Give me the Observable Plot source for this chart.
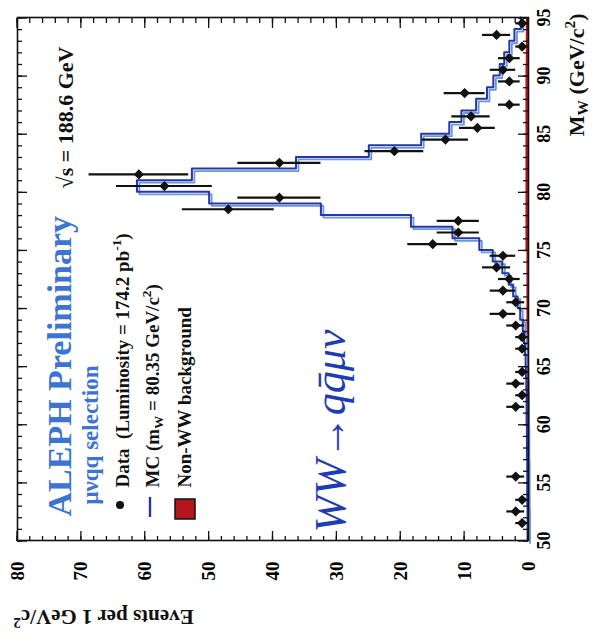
<!DOCTYPE html>
<html>
<head>
<meta charset="utf-8">
<script src="https://cdn.jsdelivr.net/npm/d3@7"></script>
<script src="https://cdn.jsdelivr.net/npm/@observablehq/plot@0.6"></script>
<style>
  html, body { margin: 0; padding: 0; background: #ffffff; }
  #wrap { position: relative; width: 596px; height: 641px; overflow: hidden; background: #ffffff; }
  #wrap svg { position: absolute; left: 0; top: 0; width: 641px !important; height: 596px !important; max-width: none !important; transform-origin: 0 0; transform: translate(0px, 641px) rotate(-90deg); }
</style>
</head>
<body>
<div id="wrap"></div>
<script>
// ---- Data (bins of 1 GeV/c^2, centres) ----
const binCenters = [50.5, 51.5, 52.5, 53.5, 54.5, 55.5, 56.5, 57.5, 58.5, 59.5,
                    60.5, 61.5, 62.5, 63.5, 64.5, 65.5, 66.5, 67.5, 68.5, 69.5,
                    70.5, 71.5, 72.5, 73.5, 74.5, 75.5, 76.5, 77.5, 78.5, 79.5,
                    80.5, 81.5, 82.5, 83.5, 84.5, 85.5, 86.5, 87.5, 88.5, 89.5,
                    90.5, 91.5, 92.5, 93.5, 94.5];
const dataCounts = [0, 1, 2, 1, 0, 2, 0, 0, 0, 0,
                    0, 2, 1, 2, 1, 0, 1, 1, 2, 4,
                    2, 4, 3, 5, 4, 15, 11, 11, 47, 39,
                    57, 61, 39, 21, 13, 8, 9, 3, 10, 3,
                    4, 3, 1, 5, 1];
const dataErrors = [0, 1.0, 1.4, 1.0, 0, 1.4, 0, 0, 0, 0,
                    0, 1.4, 1.0, 1.4, 1.0, 0, 1.0, 1.0, 1.4, 2.0,
                    1.4, 2.0, 1.7, 2.2, 2.0, 3.9, 3.3, 3.3, 7.2, 6.5,
                    7.5, 7.8, 6.5, 4.6, 3.6, 2.8, 3.0, 1.7, 3.2, 1.7,
                    2.0, 1.7, 1.0, 2.2, 1.0];
const mcValues = [0.15, 0.15, 0.15, 0.2, 0.2, 0.2, 0.2, 0.25, 0.25, 0.25,
                  0.3, 0.3, 0.3, 0.35, 0.4, 0.45, 0.55, 0.7, 0.9, 1.3,
                  1.7, 2.4, 3.1, 4.1, 5.6, 7.7, 11.9, 18.4, 32.5, 50.0,
                  61.3, 52.7, 36.4, 25.0, 16.8, 12.4, 10.5, 8.2, 6.5, 5.5,
                  4.5, 3.8, 3.0, 2.2, 1.2];
const bkgValues = [0.1, 0.1, 0.1, 0.1, 0.1, 0.1, 0.1, 0.1, 0.1, 0.1,
                   0.15, 0.15, 0.15, 0.15, 0.15, 0.15, 0.15, 0.15, 0.25, 0.25,
                   0.25, 0.25, 0.25, 0.25, 0.25, 0.4, 0.4, 0.4, 0.4, 0.4,
                   0.4, 0.4, 0.4, 0.4, 0.4, 0.4, 0.4, 0.4, 0.4, 0.4,
                   0.4, 0.35, 0.35, 0.35, 0.35];
const xMajorTicks = [50, 55, 60, 65, 70, 75, 80, 85, 90, 95];
const xMinorTicks = [50, 51, 52, 53, 54, 55, 56, 57, 58, 59, 60, 61, 62, 63, 64, 65, 66, 67, 68, 69,
                     70, 71, 72, 73, 74, 75, 76, 77, 78, 79, 80, 81, 82, 83, 84, 85, 86, 87, 88, 89,
                     90, 91, 92, 93, 94, 95];
const yMajorTicks = [0, 10, 20, 30, 40, 50, 60, 70, 80];
const yMinorTicks = [0, 2, 4, 6, 8, 10, 12, 14, 16, 18, 20, 22, 24, 26, 28, 30, 32, 34, 36, 38,
                     40, 42, 44, 46, 48, 50, 52, 54, 56, 58, 60, 62, 64, 66, 68, 70, 72, 74, 76, 78, 80];
const xDomain = [50, 95];
const yDomain = [0, 80];

// ---- Text ----
const titleText = "ALEPH Preliminary";
const selText = "μνqq selection";
const dataLabel = "Data  (Luminosity = 174.2 pb^{-1})";
const mcLabel = "MC (m_{W} = 80.35 GeV/c^{2})";
const bkgLabel = "Non-WW background";
const energyText = "√s = 188.6 GeV";
const noteText = "WW→qq̄μν";
const xTitle = "M_{W} (GeV/c^{2})";
const yTitle = "Events per 1 GeV/c^{2}";

// ---- Tables built from the arrays ----
const bins = binCenters.map((c, i) => ({x1: c - 0.5, x2: c + 0.5, c, n: dataCounts[i], e: dataErrors[i], mc: mcValues[i], bkg: bkgValues[i]}));
const mcRows = bins.map(b => ({x: b.x1, y: b.mc})).concat([{x: xDomain[1], y: mcValues[mcValues.length - 1]}]);
const pts = bins.filter(b => b.n > 0);

// ---- Layout ----
const W = 641, H = 596;
const mL = 100, mR = 18, mT = 17, mB = 68;

const serif = "'Liberation Serif', 'DejaVu Serif', serif";
const legendText = (txt, dx, dy, extra) => Plot.text([txt], {text: d => d, frameAnchor: "top-left", textAnchor: "start", lineAnchor: "bottom", dx, dy, fontFamily: serif, ...extra});

const plot = Plot.plot({
  width: W, height: H,
  marginLeft: mL, marginRight: mR, marginTop: mT, marginBottom: mB,
  x: {domain: xDomain},
  y: {domain: yDomain},
  style: {background: "transparent", fontFamily: serif, color: "#000"},
  marks: [
    Plot.rectY(bins, {x1: "x1", x2: "x2", y: "bkg", fill: "#b3161b"}),
    Plot.line(mcRows, {x: "x", y: "y", curve: "step-after", stroke: "#6a96e0", strokeWidth: 1.8, dx: -2.5, dy: 2.5}),
    Plot.line(mcRows, {x: "x", y: "y", curve: "step-after", stroke: "#2536a8", strokeWidth: 2}),
    Plot.ruleX(pts, {x: "c", y1: d => d.n - d.e, y2: d => d.n + d.e, stroke: "#111", strokeWidth: 2.2}),
    Plot.dot(pts, {x: "c", y: "n", symbol: "diamond2", r: 4.6, fill: "#111", stroke: "none"}),
    Plot.frame({stroke: "#111", strokeWidth: 1.6}),
    // tick labels
    Plot.axisX(xMajorTicks, {anchor: "bottom", tickSize: 0, tickPadding: 9, label: null, fontSize: 18, fontWeight: "bold", fontFamily: serif}),
    Plot.axisY(yMajorTicks, {anchor: "left", tickSize: 0, tickPadding: 21, label: null, fontSize: 19, fontWeight: "bold", fontFamily: serif}),
    // axis titles
    Plot.text([xTitle], {text: d => d, frameAnchor: "bottom-right", textAnchor: "end", lineAnchor: "bottom", dx: 4, dy: 55, fontSize: 22, fontWeight: "bold", fontFamily: serif, fill: "#111"}),
    Plot.text([yTitle], {text: d => d, frameAnchor: "top-left", rotate: -90, textAnchor: "end", lineAnchor: "bottom", dx: -69, dy: -4, fontSize: 21, fontWeight: "bold", fontFamily: serif, fill: "#111"}),
    // legend / annotations
    legendText(titleText, 24, 53, {fontSize: 34, fontWeight: "bold", fill: "#3b74d4"}),
    legendText(selText, 36, 80, {fontSize: 23, fontWeight: "bold", fill: "#3b74d4"}),
    legendText(dataLabel, 53, 111, {fontSize: 19, fontWeight: "bold", fill: "#111"}),
    legendText(mcLabel, 53, 141, {fontSize: 19, fontWeight: "bold", fill: "#111"}),
    legendText(bkgLabel, 53, 173, {fontSize: 19, fontWeight: "bold", fill: "#111"}),
    Plot.text([energyText], {text: d => d, frameAnchor: "top-right", textAnchor: "end", lineAnchor: "bottom", dx: -29, dy: 55, fontSize: 22, fontWeight: "bold", fontFamily: serif, fill: "#111"}),
    legendText(noteText, 8, 327, {fontSize: 44, fontStyle: "italic", fill: "#1d3cb8"})
  ]
});

// sub/superscripts: "_{..}" and "^{..}"
d3.select(plot).selectAll("text").each(function () {
  const el = this;
  if (el.childElementCount > 0) return;
  const s = el.textContent;
  if (!/[_^]\{/.test(s)) return;
  el.textContent = "";
  const re = /([_^])\{([^}]*)\}/g;
  let last = 0, m, pendingDy = null;
  const add = (txt, attrs) => {
    const t = document.createElementNS("http://www.w3.org/2000/svg", "tspan");
    for (const k in attrs) t.setAttribute(k, attrs[k]);
    t.textContent = txt;
    el.appendChild(t);
  };
  while ((m = re.exec(s))) {
    if (m.index > last) { add(s.slice(last, m.index), pendingDy ? {dy: pendingDy} : {}); pendingDy = null; }
    if (m[1] === "_") { add(m[2], {"font-size": "70%", dy: pendingDy ? (parseFloat(pendingDy) / 0.7 + 0.3).toFixed(3) + "em" : "0.3em"}); pendingDy = "-0.21em"; }
    else { add(m[2], {"font-size": "70%", dy: pendingDy ? (parseFloat(pendingDy) / 0.7 - 0.55).toFixed(3) + "em" : "-0.55em"}); pendingDy = "0.385em"; }
    last = re.lastIndex;
  }
  if (last < s.length) add(s.slice(last), pendingDy ? {dy: pendingDy} : {});
});

const svg = d3.select(plot);

// inward ticks on all four sides, positioned with the plot's own scales
const sx = plot.scale("x"), sy = plot.scale("y");
const x0 = mL, x1 = W - mR, y0 = mT, y1 = H - mB;
const tg = svg.append("g").attr("stroke", "#111").attr("stroke-width", 1.3).attr("fill", "none");
function xTicks(vals, len) {
  for (const v of vals) {
    const px = sx.apply(v);
    tg.append("line").attr("x1", px).attr("x2", px).attr("y1", y1).attr("y2", y1 - len);
    tg.append("line").attr("x1", px).attr("x2", px).attr("y1", y0).attr("y2", y0 + len);
  }
}
function yTicks(vals, len) {
  for (const v of vals) {
    const py = sy.apply(v);
    tg.append("line").attr("y1", py).attr("y2", py).attr("x1", x0).attr("x2", x0 + len);
    tg.append("line").attr("y1", py).attr("y2", py).attr("x1", x1).attr("x2", x1 - len);
  }
}
xTicks(xMinorTicks, 5); xTicks(xMajorTicks, 10);
yTicks(yMinorTicks, 5); yTicks(yMajorTicks, 10);

// legend symbols placed relative to the frame's top-left corner (pixel layout)
svg.append("circle").attr("cx", mL + 36).attr("cy", mT + 103).attr("r", 4).attr("fill", "#111");
svg.append("line").attr("x1", mL + 24).attr("x2", mL + 44).attr("y1", mT + 133).attr("y2", mT + 133).attr("stroke", "#2536a8").attr("stroke-width", 2.4);
svg.append("rect").attr("x", mL + 22).attr("y", mT + 158).attr("width", 20).attr("height", 20).attr("fill", "#b3161b").attr("stroke", "#111").attr("stroke-width", 1.5);

document.getElementById("wrap").appendChild(plot);
</script>
</body>
</html>
